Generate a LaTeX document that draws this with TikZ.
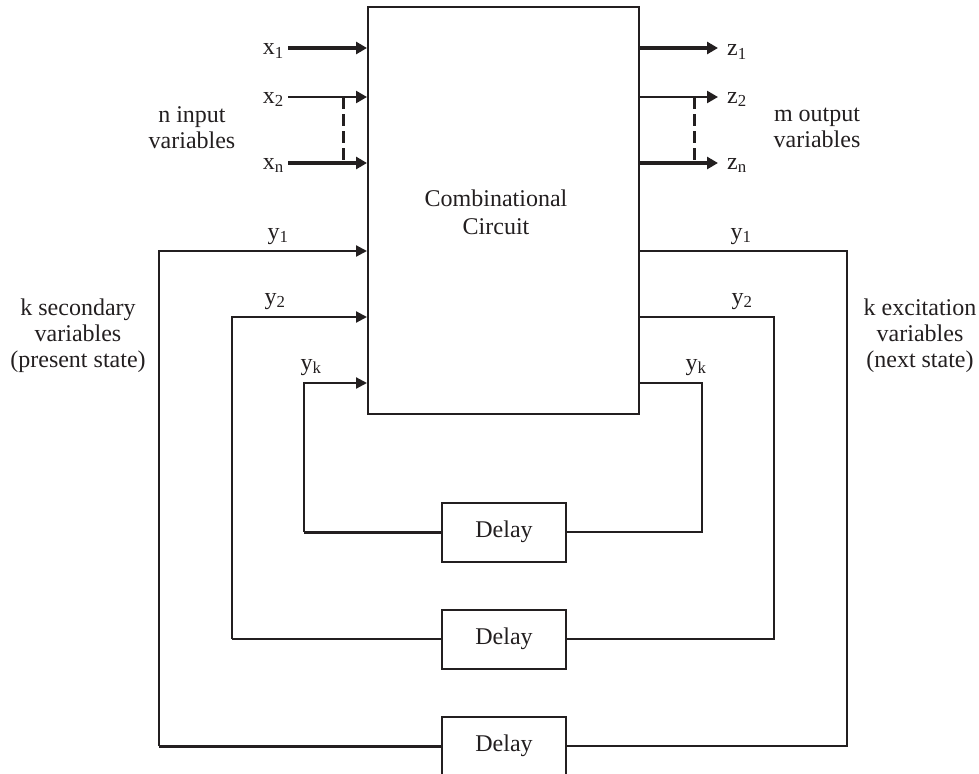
\documentclass[tikz,border=0pt]{standalone}
\usepackage{fontspec}
\setmainfont{Liberation Serif}
\usetikzlibrary{arrows.meta}
\definecolor{ink}{RGB}{35,31,32}
\begin{document}
\begin{tikzpicture}[x=1bp,y=-1bp,
  every node/.style={font=\fontsize{24bp}{26bp}\selectfont, text=ink, inner sep=0pt},
  blockbox/.style={draw=ink, line width=2bp, fill=white},
  inarr/.style={draw=ink, line width=3.5bp, -{Triangle[length=11bp,width=12bp]}},
  inarrthin/.style={draw=ink, line width=2.5bp, -{Triangle[length=11bp,width=12bp]}},
  fbarr/.style={draw=ink, line width=2.2bp, -{Triangle[length=11bp,width=11bp]}},
  fbline/.style={draw=ink, line width=2.2bp},
  fbthick/.style={draw=ink, line width=3bp},
  dashline/.style={draw=ink, line width=3bp, dash pattern=on 12bp off 5bp}
]
\useasboundingbox (0,0) rectangle (979,774);

% main block
\node[blockbox, minimum width=271bp, minimum height=407bp] (cc) at (503.5,210.5) {};
\node[align=center, font=\fontsize{24bp}{28bp}\selectfont] (cctext) at (496,212) {Combinational\\Circuit};

% delay blocks
\node[blockbox, minimum width=124bp, minimum height=59bp] (d1) at (504,532) {Delay};
\node[blockbox, minimum width=124bp, minimum height=59bp] (d2) at (504,639) {Delay};
\node[blockbox, minimum width=124bp, minimum height=59bp] (d3) at (504,746) {Delay};

% inputs
\coordinate (xs1) at (288,48);
\coordinate (xs2) at (288,97);
\coordinate (xsn) at (288,163);
\draw[inarr] (xs1) -- (xs1 -| cc.west);
\draw[inarrthin] (xs2) -- (xs2 -| cc.west);
\draw[inarr] (xsn) -- (xsn -| cc.west);
\node[anchor=base east] (lx1) at (284,55) {x\textsubscript{1}};
\node[anchor=base east] (lx2) at (284,103) {x\textsubscript{2}};
\node[anchor=base east] (lxn) at (284,169) {x\textsubscript{n}};
\coordinate (dla) at (343,97);
\coordinate (dlb) at (343,163);
\draw[dashline] (dla) -- (dlb);

% outputs
\coordinate (zs1) at (718,48);
\coordinate (zs2) at (718,97);
\coordinate (zsn) at (718,163);
\draw[inarr] (zs1 -| cc.east) -- (zs1);
\draw[inarrthin] (zs2 -| cc.east) -- (zs2);
\draw[inarr] (zsn -| cc.east) -- (zsn);
\node[anchor=base west] (lz1) at (727,56) {z\textsubscript{1}};
\node[anchor=base west] (lz2) at (727,103) {z\textsubscript{2}};
\node[anchor=base west] (lzn) at (727,169) {z\textsubscript{n}};
\coordinate (dra) at (694,97);
\coordinate (drb) at (694,163);
\draw[dashline] (dra) -- (drb);

% feedback corners
\coordinate (l1) at (159,251);
\coordinate (l2) at (232,317);
\coordinate (lk) at (304,383);
\coordinate (r1) at (847,251);
\coordinate (r2) at (774,317);
\coordinate (rk) at (702,383);

% left (present state) paths
\draw[fbthick] (d3.west) -- (d3.west -| l1);
\draw[fbarr] (d3.west -| l1) -- (l1) -- (l1 -| cc.west);
\draw[fbline] (d2.west) -- (d2.west -| l2);
\draw[fbarr] (d2.west -| l2) -- (l2) -- (l2 -| cc.west);
\draw[fbthick] (d1.west) -- (d1.west -| lk);
\draw[fbarr] (d1.west -| lk) -- (lk) -- (lk -| cc.west);

% right (next state) paths
\draw[fbline] (r1 -| cc.east) -- (r1) |- (d3.east);
\draw[fbline] (r2 -| cc.east) -- (r2) |- (d2.east);
\draw[fbline] (rk -| cc.east) -- (rk) |- (d1.east);

% y labels
\node[anchor=base] (ly1l) at (278,239) {y\textsubscript{1}};
\node[anchor=base] (ly2l) at (275,304) {y\textsubscript{2}};
\node[anchor=base] (lykl) at (311,370) {y\textsubscript{k}};
\node[anchor=base] (ly1r) at (741,239) {y\textsubscript{1}};
\node[anchor=base] (ly2r) at (742,304) {y\textsubscript{2}};
\node[anchor=base] (lykr) at (696,370) {y\textsubscript{k}};

% group labels
\node[align=center] (nin) at (192,128) {n input\\variables};
\node[align=center] (mout) at (817,128) {m output\\variables};
\node[align=center] (ksec) at (78,336) {k secondary\\variables\\(present state)};
\node[align=center] (kexc) at (920,336) {k excitation\\variables\\(next state)};
\end{tikzpicture}
\end{document}
